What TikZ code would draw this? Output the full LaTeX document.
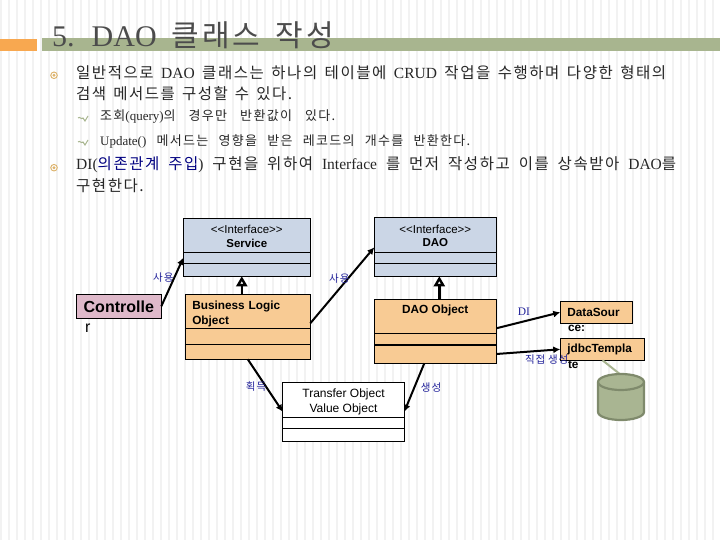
\documentclass[tikz,border=0pt]{standalone}
\usepackage{fontspec}
\setmainfont{Liberation Serif}
\setsansfont{Liberation Sans}
\newfontfamily\krfont[LetterSpace=10]{Noto Sans CJK KR}
\newcommand{\kr}[1]{{\krfont #1}}
\newcommand{\fitline}[2]{\makebox[#1pt][s]{#2}}
\usetikzlibrary{positioning,arrows.meta,calc}
\definecolor{stripe}{HTML}{F2F2F2}
\definecolor{barorange}{HTML}{F8A850}
\definecolor{bargreen}{HTML}{A8B58F}
\definecolor{ifacefill}{HTML}{CBD6E6}
\definecolor{implfill}{HTML}{F8CB94}
\definecolor{ctrlfill}{HTML}{DFB9CA}
\definecolor{labelblue}{HTML}{22229A}
\definecolor{dbfill}{HTML}{A9B592}
\definecolor{dbline}{HTML}{7F8A6C}
\definecolor{bulletc}{HTML}{DDB46E}
\begin{document}
\begin{tikzpicture}[
  x=1pt, y=-1pt,
  bodyline/.style={anchor=west, inner sep=0, font=\fontsize{15.5}{18}\selectfont, text=black!85},
  subline/.style={anchor=west, inner sep=0, font=\fontsize{13}{15}\selectfont, text=black!85},
  cell/.style={draw, line width=1pt, inner sep=0, outer sep=0, align=center,
               font=\sffamily\fontsize{11.5}{13.5}\selectfont},
  ifc/.style={cell, fill=ifacefill, minimum width=#1},
  impl/.style={cell, fill=implfill, minimum width=#1},
  vo/.style={cell, fill=white, minimum width=#1},
  small/.style={cell, fill=implfill, align=left, inner xsep=7pt, text width=#1-14pt, minimum width=#1,
                font=\sffamily\bfseries\fontsize{11.8}{14}\selectfont, anchor=north west},
  spill/.style={inner sep=0, font=\sffamily\bfseries\fontsize{11.8}{14}\selectfont},
  lab/.style={inner sep=0, text=labelblue, font=\fontsize{10.5}{12}\selectfont},
  fl/.style={-{Latex[length=7pt,width=7pt]}, line width=2pt},
  inh/.style={-{Triangle[open,length=10pt,width=11pt]}, line width=2.4pt}
]
\useasboundingbox (0,0) rectangle (720,540);
\foreach \x in {-0.5,7.5,...,718} \fill[stripe] (\x,0) rectangle ++(2.5,540);

% title
\fill[barorange] (0,39) rectangle (37,51);
\fill[bargreen] (42,38) rectangle (720,51);
\node[anchor=base west, inner sep=0, text=black!70, font=\fontsize{30}{32}\selectfont] (title) at (52,47)
  {5.\hspace{17pt}DAO\hspace{15pt}\kr{클래스}\hspace{15pt}\kr{작성}};

% text
\foreach \y in {75.3,167.7} {
  \fill[bulletc] (54,\y) circle (3.8);
  \fill[white] (54,\y) circle (2.6);
  \fill[bulletc] (54,\y) circle (1.6);
}
\foreach \y in {118,142}
  \draw[bargreen, line width=1pt] (78,\y) .. controls (80,\y-2) and (81,\y+2) .. (83,\y) -- (85,\y+3) -- (88,\y-2);
\node[bodyline] (l1) at (76,73) {\fitline{590}{\kr{일반적으로} DAO \kr{클래스는} \kr{하나의} \kr{테이블에} CRUD \kr{작업을} \kr{수행하며} \kr{다양한} \kr{형태의}}};
\node[bodyline] (l2) at (76,94) {\fitline{216}{\kr{검색} \kr{메서드를} \kr{구성할} \kr{수} \kr{있다.}}};
\node[subline] (s1) at (100,117) {\fitline{235}{\kr{조회}(query)\kr{의} \kr{경우만} \kr{반환값이} \kr{있다.}}};
\node[subline] (s2) at (100,141) {\fitline{370}{Update() \kr{메서드는} \kr{영향을} \kr{받은} \kr{레코드의} \kr{개수를} \kr{반환한다.}}};
\node[bodyline] (l3) at (76,165) {\fitline{600}{DI(\textcolor{blue!50!black}{\kr{의존관계} \kr{주입}}) \kr{구현을} \kr{위하여} Interface \kr{를} \kr{먼저} \kr{작성하고} \kr{이를} \kr{상속받아} DAO\kr{를}}};
\node[bodyline] (l4) at (76,186) {\kr{구현한다.}};

% interfaces
\node[ifc=127pt, minimum height=34pt, anchor=north west] (svch) at (183.3,218.3) {\rule{0pt}{11pt}<{}<Interface>{}>\\\textbf{Service}};
\node[ifc=127pt, minimum height=11pt, below=0pt of svch] (svcm) {};
\node[ifc=127pt, minimum height=13pt, below=0pt of svcm] (svcb) {};
\node[ifc=122pt, minimum height=35pt, anchor=north west] (daoih) at (374.3,217.3) {\rule{0pt}{11pt}<{}<Interface>{}>\\\textbf{DAO}};
\node[ifc=122pt, minimum height=11pt, below=0pt of daoih] (daoim) {};
\node[ifc=122pt, minimum height=13pt, below=0pt of daoim] (daoib) {};

% controller
\node[cell, fill=ctrlfill, minimum width=85pt, minimum height=24pt, anchor=north west,
      font=\sffamily\bfseries\fontsize{16}{18}\selectfont] (ctrl) at (76.3,294.3) {Controlle};
\node[inner sep=0, font=\sffamily\fontsize{16}{18}\selectfont, below right=5pt and 8.5pt of ctrl.south west] (ctrlr) {r};

% objects
\node[impl=125pt, minimum height=34pt, anchor=north west, align=left, text width=111pt,
      inner xsep=7pt, font=\sffamily\bfseries\fontsize{11.8}{15}\selectfont] (blh) at (185.3,294.3) {\rule{0pt}{14pt}Business Logic\\Object};
\node[impl=125pt, minimum height=16pt, below=0pt of blh] (blm) {};
\node[impl=125pt, minimum height=15pt, below=0pt of blm] (blb) {};
\node[impl=122pt, minimum height=34pt, anchor=north west,
      font=\sffamily\bfseries\fontsize{11.8}{14}\selectfont] (daoh) at (374.3,299.3) {DAO Object\\\mbox{}};
\node[impl=122pt, minimum height=11.4pt, below=0pt of daoh] (daom) {};
\node[impl=122pt, minimum height=18.6pt, below=0pt of daom] (daob) {};
\draw[line width=2pt] (daom.south west) -- (daom.south east);
\node[vo=121.6pt, minimum height=35pt, anchor=north west, font=\sffamily\fontsize{12}{15}\selectfont] (trh) at (282.7,382.3) {\rule{0pt}{13pt}Transfer Object\\Value Object};
\node[vo=121.6pt, minimum height=11pt, below=0pt of trh] (trm) {};
\node[vo=121.6pt, minimum height=12.7pt, below=0pt of trm] (trb) {};

% small boxes
\node[small=72.4pt, minimum height=22pt] (ds) at (560.3,301.3) {DataSour};
\node[spill, below right=2pt and 7.5pt of ds.south west] (dsr) {ce:};
\node[small=84.4pt, minimum height=22pt] (jdbc) at (560.3,338.3) {jdbcTempla};
\node[spill, below right=0.5pt and 7.5pt of jdbc.south west] (jdbcr) {te};

% database
\coordinate (db) at (621,375);
\draw[dbfill, line width=2pt] (jdbc.south) -- (db);
\draw[dbline, fill=dbfill, line width=2.2pt] (598,382) -- (598,412) arc[start angle=180, end angle=360, x radius=23pt, y radius=8pt]
  -- (644,382) arc[start angle=0, end angle=180, x radius=23pt, y radius=8pt] -- cycle;
\draw[dbline, line width=2.2pt] (598,382) arc[start angle=180, end angle=360, x radius=23pt, y radius=8pt];

% connectors
\foreach \a/\b in {ctrl.east/svcm.west, daob.east/jdbc.west}
  \draw[fl] (\a) -- (\b);
\draw[fl] ([yshift=5]blh.south east) -- ([yshift=5]daoih.south west);
\draw[fl] (blb.south) -- ([yshift=5.6]trh.south west);
\draw[fl] ([xshift=-11]daob.south) -- ([yshift=5.6]trh.south east);
\draw[fl] ([yshift=5]daoh.south east) -- (ds.west);
\draw[inh] ([xshift=-6]blh.north) -- ([xshift=-5]svcb.south);
\draw[inh] ([xshift=4]daoh.north) -- ([xshift=4]daoib.south);

% labels
\node[lab] (use1) at (163.3,278) {\kr{사용}};
\node[lab] (use2) at (339.3,279) {\kr{사용}};
\node[lab, font=\fontsize{11.5}{14}\selectfont] (di) at (524,311.5) {DI};
\node[lab] (direct) at (546.7,360) {\kr{직접} \kr{생성}};
\node[lab] (get) at (256,386.7) {\kr{획득}};
\node[lab] (make) at (431,388) {\kr{생성}};
\end{tikzpicture}
\end{document}
